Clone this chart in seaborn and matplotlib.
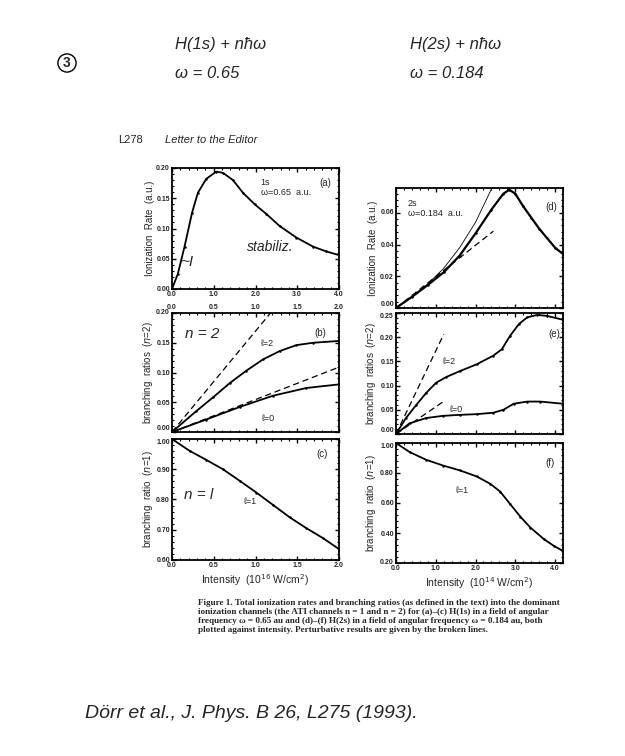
import numpy as np
import pandas as pd
import matplotlib
matplotlib.use("Agg")
import matplotlib.pyplot as plt
from matplotlib.ticker import AutoMinorLocator
import seaborn as sns

# ---------------- data ----------------
# (a) H(1s) ionization rate, omega = 0.65
a_x = [0.0, 0.14, 0.30, 0.48, 0.62, 0.82, 1.06, 1.22, 1.46, 1.70, 1.98, 2.26, 2.58, 2.98, 3.38, 3.70, 4.0]
a_y = [0.0, 0.025, 0.070, 0.126, 0.159, 0.182, 0.194, 0.192, 0.180, 0.159, 0.140, 0.124, 0.104, 0.085, 0.070, 0.062, 0.056]

# (b) n=2 branching ratios, H(1s)
b_x = [0.0, 0.29, 0.49, 0.69, 0.89, 1.09, 1.29, 1.49, 1.69, 2.0]
b_l2 = [0.0, 0.035, 0.058, 0.082, 0.103, 0.122, 0.136, 0.146, 0.150, 0.153]
b0_x = [0.0, 0.41, 0.81, 1.21, 1.61, 2.0]
b_l0 = [0.0, 0.021, 0.042, 0.061, 0.074, 0.080]
b_pert_l2_x = [0.0, 1.18]
b_pert_l2_y = [0.0, 0.20]
b_pert_l0_x = [0.0, 2.0]
b_pert_l0_y = [0.0, 0.109]

# (c) n=1 branching ratio, H(1s)
c_x = [0.0, 0.21, 0.41, 0.61, 0.81, 1.01, 1.21, 1.41, 1.61, 1.81, 2.0]
c_y = [1.0, 0.961, 0.931, 0.900, 0.862, 0.823, 0.782, 0.741, 0.705, 0.672, 0.636]

# (d) H(2s) ionization rate, omega = 0.184
d_x = [0.0, 0.4, 0.8, 1.2, 1.6, 2.0, 2.4, 2.7, 2.85, 3.0, 3.2, 3.4, 3.6, 3.8, 4.0, 4.2]
d_y = [0.0, 0.007, 0.0145, 0.0225, 0.033, 0.047, 0.062, 0.072, 0.0745, 0.072, 0.064, 0.057, 0.050, 0.044, 0.038, 0.034]
d_thin_x = [0.0, 0.4, 0.8, 1.2, 1.6, 2.0, 2.41]
d_thin_y = [0.0, 0.0072, 0.0152, 0.025, 0.038, 0.054, 0.0755]
d_pert_x = [0.0, 2.45]
d_pert_y = [0.0, 0.0484]

# (e) n=2 branching ratios, H(2s)
e_x = [0.0, 0.25, 0.51, 0.76, 1.01, 1.27, 1.61, 2.03, 2.45, 2.66, 2.87, 3.09, 3.30, 3.55, 3.80, 4.2]
e_l2 = [0.0, 0.033, 0.060, 0.085, 0.106, 0.118, 0.130, 0.144, 0.162, 0.175, 0.203, 0.227, 0.241, 0.246, 0.244, 0.236]
e0_x = [0.0, 0.34, 0.76, 1.18, 1.61, 2.03, 2.45, 2.70, 2.96, 3.30, 3.63, 4.2]
e_l0 = [0.0, 0.022, 0.033, 0.0375, 0.0396, 0.041, 0.044, 0.050, 0.0625, 0.067, 0.067, 0.0625]
e_pert_l2_x = [0.0, 1.20]
e_pert_l2_y = [0.0, 0.206]
e_pert_l0_x = [0.0, 1.20]
e_pert_l0_y = [0.0, 0.0674]

# (f) n=1 branching ratio, H(2s)
f_x = [0.0, 0.34, 0.76, 1.18, 1.61, 2.03, 2.37, 2.62, 2.87, 3.13, 3.38, 3.72, 3.97, 4.2]
f_y = [1.0, 0.94, 0.888, 0.850, 0.817, 0.777, 0.728, 0.676, 0.593, 0.508, 0.436, 0.359, 0.314, 0.28]

# tick values
a_xticks = [0.0, 1.0, 2.0, 3.0, 4.0]
b_xticks = [0.0, 0.5, 1.0, 1.5, 2.0]
r_xticks = [0.0, 1.0, 2.0, 3.0, 4.0]
a_yticks = [0.00, 0.05, 0.10, 0.15, 0.20]
b_yticks = [0.00, 0.05, 0.10, 0.15, 0.20]
c_yticks = [0.60, 0.70, 0.80, 0.90, 1.00]
d_yticks = [0.00, 0.02, 0.04, 0.06]
e_yticks = [0.00, 0.05, 0.10, 0.15, 0.20, 0.25]
f_yticks = [0.20, 0.40, 0.60, 0.80, 1.00]

# ---------------- style ----------------
sns.set_theme(style="ticks")
plt.rcParams["font.family"] = ["Liberation Sans", "DejaVu Sans"]
plt.rcParams["axes.linewidth"] = 1.3
plt.rcParams["xtick.direction"] = "in"
plt.rcParams["ytick.direction"] = "in"

fig = plt.figure(figsize=(6.25, 7.56), dpi=100)
fig.patch.set_facecolor("white")


def px_axes(left, right, top, bottom):
    W, H = 625.0, 756.0
    return fig.add_axes([left / W, 1 - bottom / H, (right - left) / W, (bottom - top) / H])


ax_a = px_axes(172, 339, 168, 289)
ax_b = px_axes(172, 339, 313, 432)
ax_c = px_axes(172, 339, 439, 560)
ax_d = px_axes(396, 563, 188, 308)
ax_e = px_axes(396, 563, 313, 434)
ax_f = px_axes(396, 563, 443, 563)


def style(ax, xlim, ylim, xticks, yticks, labelbottom=True, labeltop=False,
          low_va="center", high_va="center"):
    ax.set_xlim(*xlim)
    ax.set_ylim(*ylim)
    ax.set_xticks(xticks)
    ax.set_yticks(yticks)
    ax.xaxis.set_minor_locator(AutoMinorLocator(5))
    ax.yaxis.set_minor_locator(AutoMinorLocator(5))
    ax.tick_params(which="both", top=True, right=True, direction="in", color="black",
                   labelbottom=labelbottom, labeltop=labeltop)
    ax.tick_params(which="major", length=3, width=1.0, pad=1.5)
    ax.tick_params(which="minor", length=1.6, width=0.8)
    ax.set_xticklabels([f"{v:.1f}" for v in xticks], fontsize=5, fontweight="bold")
    ylabs = ax.set_yticklabels([f"{v:.2f}" for v in yticks], fontsize=5, fontweight="bold")
    ylabs[0].set_va(low_va)
    ylabs[-1].set_va(high_va)
    for s in ax.spines.values():
        s.set_linewidth(1.3)
        s.set_color("black")
    ax.set_xlabel("")
    ax.set_ylabel("")
    if ax.get_legend() is not None:
        ax.get_legend().remove()


def solid(ax, x, y, lw=1.3, ms=1.8, marker="o"):
    df = pd.DataFrame({"x": x, "y": y})
    sns.lineplot(data=df, x="x", y="y", ax=ax, color="black", lw=lw, marker=marker,
                 markersize=ms, markeredgewidth=0, sort=False, estimator=None)


def dashed(ax, x, y, lw=0.9):
    df = pd.DataFrame({"x": x, "y": y})
    sns.lineplot(data=df, x="x", y="y", ax=ax, color="black", lw=lw, sort=False,
                 estimator=None, linestyle=(0, (5, 3)))


YL_LEFT = -0.10
YL_RIGHT = -0.11

# (a)
solid(ax_a, a_x, a_y)
style(ax_a, (0, 4.0), (0, 0.20), a_xticks, a_yticks)
ax_a.text(0.53, 0.88, "1s", transform=ax_a.transAxes, fontsize=6.5, ha="left", va="center")
ax_a.text(0.53, 0.80, "ω=0.65  a.u.", transform=ax_a.transAxes, fontsize=6.5, ha="left", va="center")
ax_a.text(0.92, 0.88, "(a)", transform=ax_a.transAxes, fontsize=7, ha="center", va="center")
ax_a.text(0.05, 0.22, "~I", transform=ax_a.transAxes, fontsize=11, ha="left", va="center",
          fontstyle="italic")
ax_a.text(0.45, 0.35, "stabiliz.", transform=ax_a.transAxes, fontsize=10, ha="left", va="center",
          fontstyle="italic")
ax_a.set_ylabel("Ionization  Rate  (a.u.)", fontsize=7)
ax_a.yaxis.set_label_coords(YL_LEFT, 0.5)

# (b)
solid(ax_b, b_x, b_l2)
solid(ax_b, b0_x, b_l0)
dashed(ax_b, b_pert_l2_x, b_pert_l2_y)
dashed(ax_b, b_pert_l0_x, b_pert_l0_y)
style(ax_b, (0, 2.0), (0, 0.20), b_xticks, b_yticks, labelbottom=False, labeltop=True,
      low_va="bottom")
ax_b.text(0.89, 0.83, "(b)", transform=ax_b.transAxes, fontsize=7, ha="center", va="center")
ax_b.text(0.57, 0.74, "ℓ=2", transform=ax_b.transAxes, fontsize=6.5, ha="center", va="center")
ax_b.text(0.58, 0.11, "ℓ=0", transform=ax_b.transAxes, fontsize=6.5, ha="center", va="center")
ax_b.text(0.08, 0.82, "n = 2", transform=ax_b.transAxes, fontsize=11, ha="left", va="center",
          fontstyle="italic")
ax_b.set_ylabel("branching  ratios  ($n$=2)", fontsize=7)
ax_b.yaxis.set_label_coords(YL_LEFT, 0.5)

# (c)
solid(ax_c, c_x, c_y)
style(ax_c, (0, 2.0), (0.60, 1.00), b_xticks, c_yticks, high_va="top")
ax_c.text(0.90, 0.88, "(c)", transform=ax_c.transAxes, fontsize=7, ha="center", va="center")
ax_c.text(0.47, 0.48, "ℓ=1", transform=ax_c.transAxes, fontsize=6.5, ha="center", va="center")
ax_c.text(0.07, 0.54, "n = l", transform=ax_c.transAxes, fontsize=11, ha="left", va="center",
          fontstyle="italic")
ax_c.set_ylabel("branching  ratio  ($n$=1)", fontsize=7)
ax_c.yaxis.set_label_coords(YL_LEFT, 0.5)
ax_c.set_xlabel("Intensity  (10$^{16}$ W/cm$^2$)", fontsize=7.5, labelpad=2)

# (d)
solid(ax_d, d_x, d_y, lw=1.6)
solid(ax_d, d_thin_x, d_thin_y, lw=0.6, ms=0, marker=None)
dashed(ax_d, d_pert_x, d_pert_y)
style(ax_d, (0, 4.2), (0, 0.0756), r_xticks, d_yticks, labelbottom=False, low_va="bottom")
ax_d.text(0.07, 0.875, "2s", transform=ax_d.transAxes, fontsize=6.5, ha="left", va="center")
ax_d.text(0.07, 0.79, "ω=0.184  a.u.", transform=ax_d.transAxes, fontsize=6.5, ha="left", va="center")
ax_d.text(0.93, 0.84, "(d)", transform=ax_d.transAxes, fontsize=7, ha="center", va="center")
ax_d.set_ylabel("Ionization  Rate  (a.u.)", fontsize=7)
ax_d.yaxis.set_label_coords(YL_RIGHT, 0.5)

# (e)
solid(ax_e, e_x, e_l2)
solid(ax_e, e0_x, e_l0)
dashed(ax_e, e_pert_l2_x, e_pert_l2_y)
dashed(ax_e, e_pert_l0_x, e_pert_l0_y)
style(ax_e, (0, 4.2), (0, 0.25), r_xticks, e_yticks, labelbottom=False,
      low_va="bottom", high_va="top")
ax_e.text(0.945, 0.825, "(e)", transform=ax_e.transAxes, fontsize=7, ha="center", va="center")
ax_e.text(0.32, 0.60, "ℓ=2", transform=ax_e.transAxes, fontsize=6.5, ha="center", va="center")
ax_e.text(0.36, 0.20, "ℓ=0", transform=ax_e.transAxes, fontsize=6.5, ha="center", va="center")
ax_e.set_ylabel("branching  ratios  ($n$=2)", fontsize=7)
ax_e.yaxis.set_label_coords(YL_RIGHT, 0.5)

# (f)
solid(ax_f, f_x, f_y)
style(ax_f, (0, 4.2), (0.20, 1.00), r_xticks, f_yticks, high_va="top")
ax_f.text(0.925, 0.83, "(f)", transform=ax_f.transAxes, fontsize=7, ha="center", va="center")
ax_f.text(0.40, 0.60, "ℓ=1", transform=ax_f.transAxes, fontsize=6.5, ha="center", va="center")
ax_f.set_ylabel("branching  ratio  ($n$=1)", fontsize=7)
ax_f.yaxis.set_label_coords(YL_RIGHT, 0.5)
ax_f.set_xlabel("Intensity  (10$^{14}$ W/cm$^2$)", fontsize=7.5, labelpad=2)

# ---------------- page text ----------------
def ftxt(xpx, ypx, s, **kw):
    fig.text(xpx / 625.0, 1 - ypx / 756.0, s, **kw)

ftxt(67, 63, "3", fontsize=10, ha="center", va="center", fontweight="bold",
     bbox=dict(boxstyle="circle,pad=0.15", fc="white", ec="black", lw=1.0))
ftxt(175, 44, "H(1s) + nħω", fontsize=12, ha="left", va="center", fontstyle="italic")
ftxt(175, 73, "ω = 0.65", fontsize=12, ha="left", va="center", fontstyle="italic")
ftxt(410, 44, "H(2s) + nħω", fontsize=12, ha="left", va="center", fontstyle="italic")
ftxt(410, 73, "ω = 0.184", fontsize=12, ha="left", va="center", fontstyle="italic")
ftxt(118, 140, "L278", fontsize=8, ha="left", va="center")
ftxt(165, 140, "Letter to the Editor", fontsize=8, ha="left", va="center", fontstyle="italic")

caption = ("Figure 1. Total ionization rates and branching ratios (as defined in the text) into the dominant\n"
           "ionization channels (the ATI channels n = 1 and n = 2) for (a)–(c) H(1s) in a field of angular\n"
           "frequency ω = 0.65 au and (d)–(f) H(2s) in a field of angular frequency ω = 0.184 au, both\n"
           "plotted against intensity. Perturbative results are given by the broken lines.")
fig.text(198 / 625.0, 1 - 599 / 756.0, caption, fontsize=6.6, ha="left", va="top",
         family=["Liberation Serif", "DejaVu Serif"], fontweight="bold", linespacing=1.18)

ftxt(85, 713, "Dörr et al., J. Phys. B 26, L275 (1993).", fontsize=14, ha="left", va="center",
     fontstyle="italic")

fig.savefig("out.png", dpi=100, facecolor="white")
